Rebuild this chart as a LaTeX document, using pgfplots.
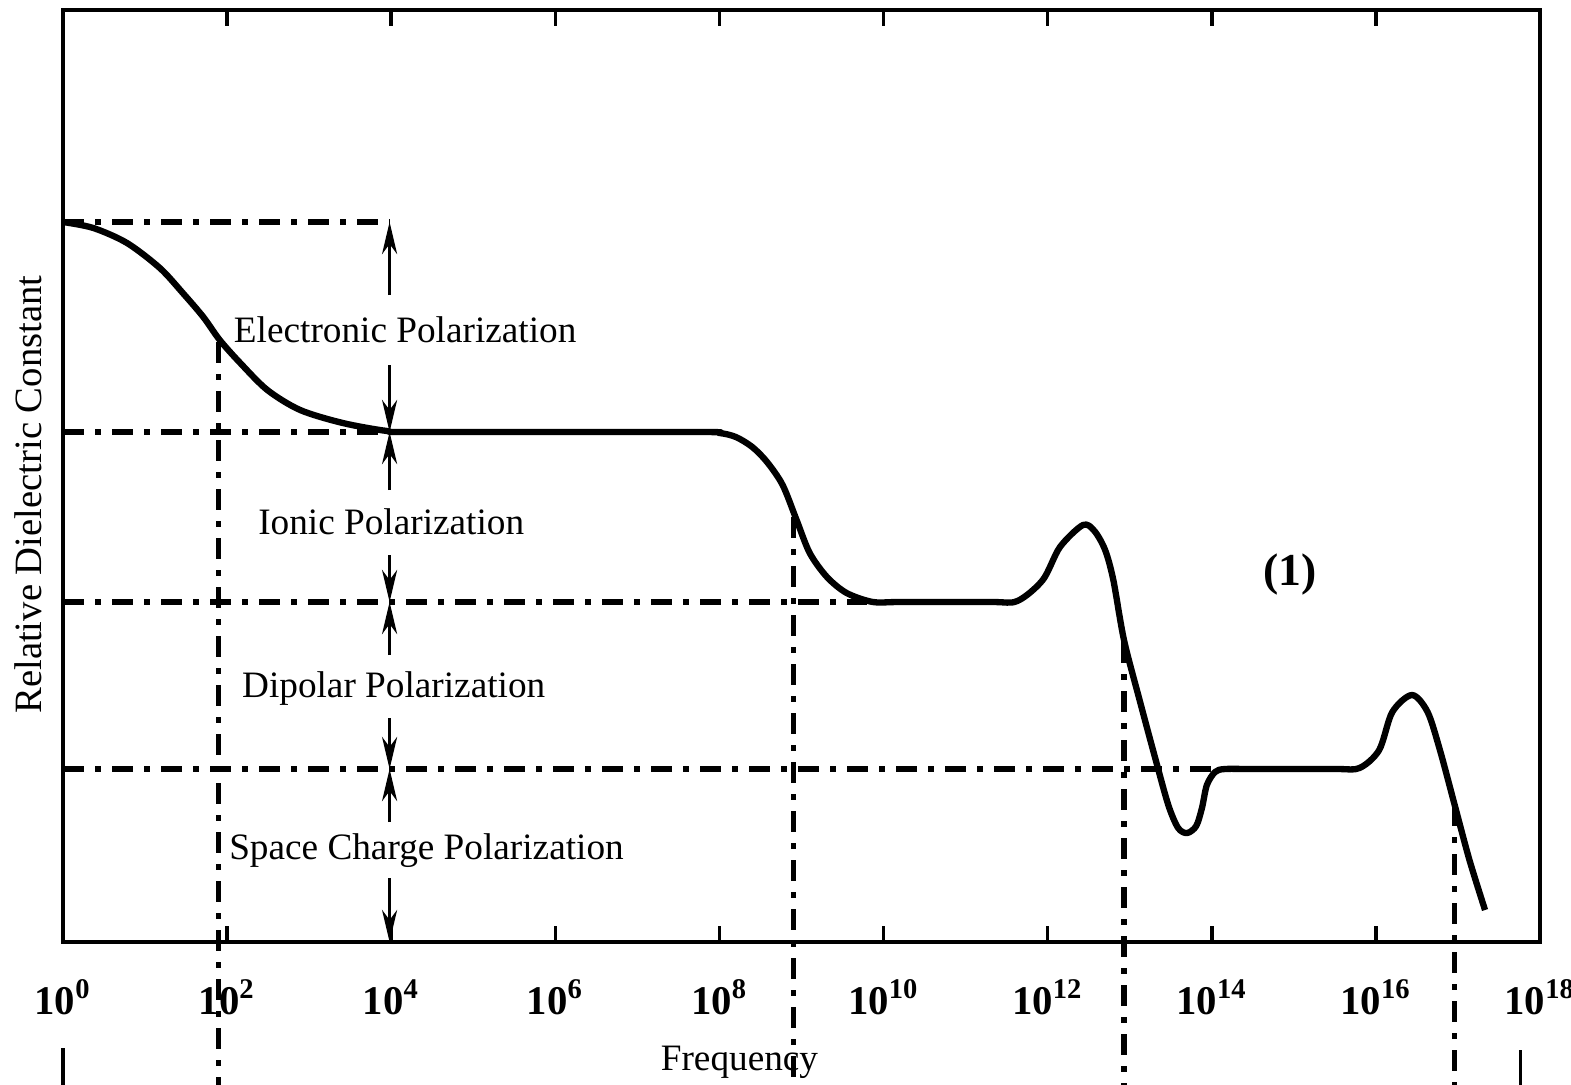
\documentclass[border=0pt]{standalone}
\usepackage{fontspec}
\setmainfont{Liberation Serif}
\usepackage{pgfplots}
\pgfplotsset{compat=1.18}
\usetikzlibrary{arrows.meta}

\pgfplotstableread{
lf y
0.00 720
0.37 714
0.78 699
1.18 674
1.46 649
1.71 625
1.91 602
2.16 579
2.49 552
2.89 532
3.41 519
3.95 511
4.30 510
7.70 510
8.00 509
8.20 505
8.40 495
8.58 480
8.77 457
8.94 422
9.10 389
9.31 365
9.55 349
9.87 340
10.20 340
11.30 340
11.63 341
11.94 362
12.15 395
12.43 417
12.57 411
12.70 392
12.80 362
12.93 302
13.12 242
13.31 184
13.47 137
13.59 114
13.70 109
13.81 116
13.88 134
13.94 157
14.04 170
14.16 173
14.50 173
15.50 173
15.80 174
16.04 192
16.20 230
16.44 247
16.63 230
16.78 192
16.96 137
17.14 82
17.33 32
}\curve

\tikzset{
  dd/.style={line width=1.45pt, dash pattern=on 0.21cm off 0.11cm on 0.06cm off 0.11cm},
  ar/.style={line width=1.05pt, -{Stealth[length=0.32cm, width=0.15cm, inset=0.1cm]}},
}

\begin{document}
\begin{tikzpicture}
\begin{axis}[
  scale only axis,
  width=14.77cm, height=9.32cm,
  xmin=0, xmax=18, ymin=0, ymax=932,
  clip=false,
  axis line style={line width=1.3pt},
  xtick={0,2,...,18},
  xticklabels={
    10\textsuperscript{0},10\textsuperscript{2},10\textsuperscript{4},
    10\textsuperscript{6},10\textsuperscript{8},10\textsuperscript{10},
    10\textsuperscript{12},10\textsuperscript{14},10\textsuperscript{16},
    10\textsuperscript{18}},
  xticklabel style={anchor=base, yshift=-0.72cm, font=\fontsize{11.6}{13}\selectfont\bfseries},
  ytick=\empty,
  tick align=inside,
  xtick pos=both,
  major tick length=0.16cm,
  every tick/.style={black, line width=1pt},
]
% curve
\addplot[line width=1.8pt, smooth, line join=round] table[x=lf, y=y] {\curve};

% horizontal dash-dot levels
\addplot[dd] coordinates {(0,720) (3.98,720)};
\addplot[dd] coordinates {(0,510) (3.9,510)};
\addplot[dd] coordinates {(0,340) (9.8,340)};
\addplot[dd] coordinates {(0,173) (14.04,173)};

% vertical dash-dot lines
\addplot[dd] coordinates {(1.89,600) (1.89,-150)};
\addplot[dd] coordinates {(8.90,425) (8.90,-150)};
\addplot[dd] coordinates {(12.93,300) (12.93,-150)};
\addplot[dd] coordinates {(16.96,137) (16.96,-150)};

% arrows at 10^4
\addplot[ar] coordinates {(3.98,647) (3.98,720)};
\addplot[ar] coordinates {(3.98,577) (3.98,510)};
\addplot[ar] coordinates {(3.98,452) (3.98,510)};
\addplot[ar] coordinates {(3.98,387) (3.98,340)};
\addplot[ar] coordinates {(3.98,287) (3.98,340)};
\addplot[ar] coordinates {(3.98,224) (3.98,173)};
\addplot[ar] coordinates {(3.98,120) (3.98,173)};
\addplot[ar] coordinates {(3.98,64) (3.98,0)};

% short solid fragments below
\addplot[line width=1pt] coordinates {(0,-106) (0,-150)};
\addplot[line width=1pt] coordinates {(17.76,-108) (17.76,-150)};

\node[font=\fontsize{10.6}{12}\selectfont] at (axis cs:4.17,612) {Electronic Polarization};
\node[font=\fontsize{10.6}{12}\selectfont] at (axis cs:4.00,420) {Ionic Polarization};
\node[font=\fontsize{10.6}{12}\selectfont] at (axis cs:4.03,253) {Dipolar Polarization};
\node[font=\fontsize{10.6}{12}\selectfont] at (axis cs:4.43,91) {Space Charge Polarization};
\node[font=\fontsize{13}{15}\selectfont\bfseries] at (axis cs:14.95,367) {(1)};
\node[font=\fontsize{10.6}{12}\selectfont, anchor=base] at (axis description cs:0.458,0) [yshift=-1.28cm] {Frequency};
\node[xshift=-0.21cm, rotate=90, anchor=base, font=\fontsize{11}{13}\selectfont] at (axis description cs:0,0.48) {Relative Dielectric Constant};
\end{axis}
\pgfresetboundingbox
\path (-0.63,-1.42) rectangle (15.08,9.42);
\end{tikzpicture}
\end{document}
